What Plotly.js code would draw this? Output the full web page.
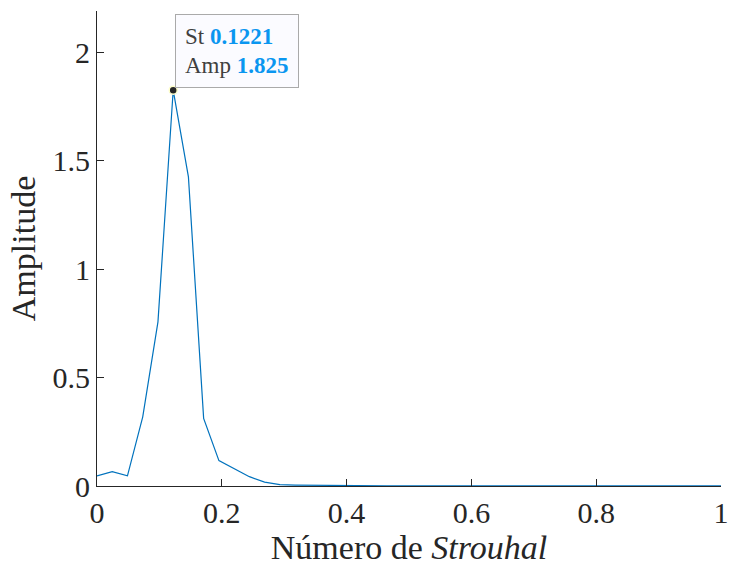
<!DOCTYPE html>
<html>
<head>
<meta charset="utf-8">
<script src="https://cdn.plot.ly/plotly-3.0.1.min.js"></script>
<style>html,body{margin:0;padding:0;background:#fff;}#chart{width:729px;height:572px;}</style>
</head>
<body>
<div id="chart"></div>
<script>
// Strouhal number sample step (from datatip St = 0.1221 at 5th step)
const stStep = 0.02442;
const amplitude = [0.047, 0.066, 0.047, 0.319, 0.757, 1.825, 1.425, 0.312, 0.117, 0.080,
                   0.043, 0.018, 0.006, 0.004, 0.003, 0.002, 0.002, 0.002, 0.001, 0.001,
                   0.001, 0.001, 0.001, 0.001, 0.001, 0.001, 0.001, 0.001, 0.001, 0.001,
                   0.001, 0.001, 0.001, 0.001, 0.001, 0.001, 0.001, 0.001, 0.001, 0.001,
                   0.001, 0.001];
const strouhal = amplitude.map((_, i) => +(i * stStep).toFixed(4));
const peakIndex = 5;
const xTicks = [0, 0.2, 0.4, 0.6, 0.8, 1];
const xTickText = ['0', '0.2', '0.4', '0.6', '0.8', '1'];
const yTicks = [0, 0.5, 1, 1.5, 2];
const yTickText = ['0', '0.5', '1', '1.5', '2'];

const font = '"Liberation Serif", serif';
const peakX = strouhal[peakIndex], peakY = amplitude[peakIndex];

const traces = [
  {x: strouhal, y: amplitude, mode: 'lines', line: {color: '#0072BD', width: 1.2}, hoverinfo: 'skip', cliponaxis: true},
  {x: [peakX], y: [peakY], mode: 'markers', marker: {color: '#262626', size: 8, line: {color: '#FFFFCC', width: 1.5}}, hoverinfo: 'skip', cliponaxis: false}
];

const layout = {
  width: 729, height: 572,
  margin: {l: 97, r: 8, t: 11, b: 86},
  paper_bgcolor: '#fff', plot_bgcolor: '#fff',
  showlegend: false,
  font: {family: font, color: '#262626'},
  xaxis: {
    range: [0, 1], tickvals: xTicks, ticktext: xTickText,
    ticks: 'inside', ticklen: 7, tickcolor: '#262626', tickwidth: 1,
    ticklabeloverflow: 'allow',
    showline: true, linecolor: '#262626', linewidth: 1, showgrid: false, zeroline: false,
    tickfont: {family: font, size: 30, color: '#262626'},
    title: {text: 'Número de <i>Strouhal</i>', font: {family: font, size: 34, color: '#262626'}, standoff: 6}
  },
  yaxis: {
    range: [0, 2.19], tickvals: yTicks, ticktext: yTickText,
    ticks: 'inside', ticklen: 7, tickcolor: '#262626', tickwidth: 1,
    ticklabeloverflow: 'allow',
    showline: true, linecolor: '#262626', linewidth: 1, showgrid: false, zeroline: false,
    tickfont: {family: font, size: 30, color: '#262626'},
    title: {text: 'Amplitude', font: {family: font, size: 34, color: '#262626'}, standoff: 6}
  },
  annotations: [{
    x: peakX, y: peakY, xref: 'x', yref: 'y',
    text: 'St <b><span style="color:#0A96F0">' + peakX.toFixed(4) + '</span></b><br>Amp <b><span style="color:#0A96F0">' + peakY.toFixed(3) + '</span></b>',
    showarrow: false, xanchor: 'left', yanchor: 'bottom', xshift: 2, yshift: 2,
    align: 'left', valign: 'middle', width: 104, height: 54,
    font: {family: font, size: 23, color: '#404040'},
    bgcolor: '#FBFBFF', bordercolor: '#AAAAAA', borderwidth: 1, borderpad: 9
  }]
};

Plotly.newPlot('chart', traces, layout, {displayModeBar: false, staticPlot: true});
</script>
</body>
</html>
